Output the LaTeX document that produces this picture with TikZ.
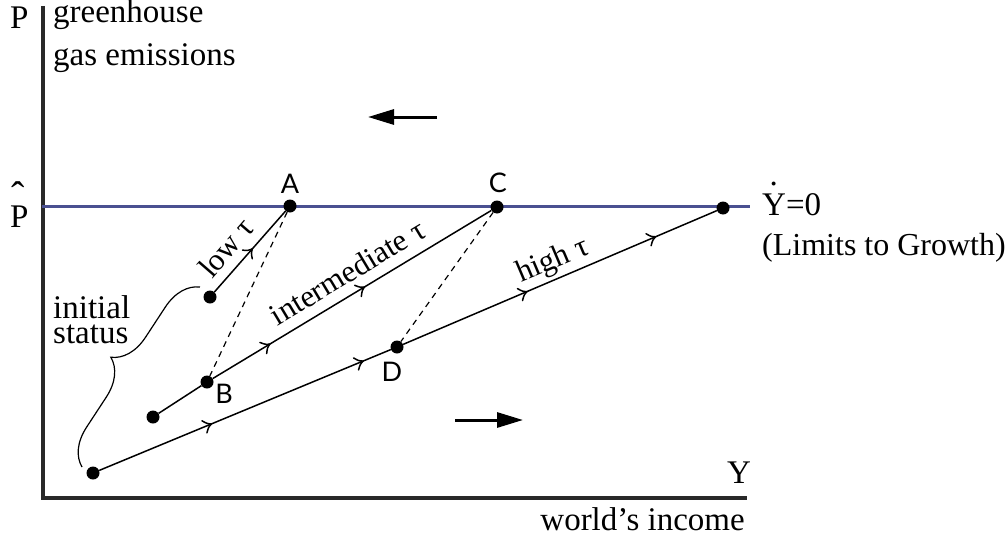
\documentclass[tikz,border=0pt]{standalone}
\usepackage{fontspec}
\setmainfont{Liberation Serif}
\newfontfamily\labelfont{Lato}
\usetikzlibrary{arrows.meta,decorations.pathreplacing,decorations.markings}
\definecolor{axisgray}{rgb}{0.16,0.16,0.16}
\definecolor{limblue}{RGB}{74,80,145}
\begin{document}
\begin{tikzpicture}[x=1pt,y=1pt,
  txt/.style={inner sep=0pt, font=\fontsize{33}{33}\selectfont},
  slab/.style={inner sep=0pt, anchor=base, font=\fontsize{31}{31}\selectfont},
  ptlab/.style={inner sep=0pt, anchor=base, font=\labelfont\fontsize{27}{27}\selectfont},
  pt/.style={circle, fill=black, minimum size=13pt, inner sep=0pt},
  traj/.style={line width=1.5pt},
  mk/.style={postaction={decorate, decoration={markings,
      mark=at position #1 with {\draw[line width=1.5pt, line cap=round]
        (-6pt,6.5pt) .. controls (-2.5pt,2pt) .. (1.5pt,0pt)
        .. controls (-2.5pt,-2pt) .. (-6pt,-6.5pt);}}}},
  axisline/.style={line width=3.5pt, draw=axisgray},
  bigarrow/.style={line width=3pt, -{Triangle[length=26pt,width=15pt]}},
  dashline/.style={line width=1.2pt, dash pattern=on 6pt off 5pt}]
\useasboundingbox (0,0) rectangle (1008,-543);

% axes
\coordinate (ytop) at (43,-6);
\coordinate (orig) at (43,-498);
\coordinate (xend) at (747,-498);
\draw[axisline] (ytop) -- (orig) -- (xend);

% limits line
\coordinate (bl) at (42,-206);
\coordinate (br) at (750,-206);
\draw[limblue, line width=3pt] (bl) -- (br);

% points
\node[pt] (s1) at (210,-297) {};
\node[pt] (A) at (290,-206) {};
\node[pt] (s2) at (153,-417) {};
\node[pt] (B) at (207,-382) {};
\node[pt] (C) at (497,-207) {};
\node[pt] (s3) at (93,-473) {};
\node[pt] (D) at (397,-347) {};
\node[pt] (E) at (723,-208) {};

% trajectories
\draw[traj, mk=0.52] (s1) -- (A);
\draw[traj] (s2) -- (B);
\draw[traj, mk=0.2, mk=0.54] (B) -- (C);
\draw[traj, mk=0.38, mk=0.9] (s3) -- (D);
\draw[traj, mk=0.39, mk=0.8] (D) -- (E);

% trajectory labels
\node[slab, rotate=49] (lowlab) at (234,-254.5) {low τ};
\node[slab, rotate=31] (midlab) at (353,-281) {intermediate τ};
\node[slab, rotate=23] (highlab) at (556,-268) {high τ};

% dashed connectors
\draw[dashline] (A) -- (B);
\draw[dashline] (C) -- (D);

% point labels
\node[ptlab] (lA) at (290,-193) {A};
\node[ptlab] (lB) at (224,-403) {B};
\node[ptlab] (lC) at (498,-192) {C};
\node[ptlab] (lD) at (392,-381) {D};

% brace
\coordinate (br1) at (82,-467);
\coordinate (br2) at (200,-287);
\draw[line width=1.2pt, decorate, decoration={brace, amplitude=36pt}] (br1) -- (br2);

% big direction arrows
\coordinate (la1) at (437,-117);
\coordinate (la2) at (368,-117);
\draw[bigarrow] (la1) -- (la2);
\coordinate (ra1) at (455,-420);
\coordinate (ra2) at (523,-420);
\draw[bigarrow] (ra1) -- (ra2);

% texts
\node[txt, anchor=base west] (P) at (10,-29) {P};
\node[txt, anchor=base west] (gh) at (53,-23) {greenhouse};
\node[txt, anchor=base west] (ge) at (53,-65) {gas emissions};
\node[txt, anchor=base west] (Ph) at (10,-227) {P};
\node[txt, anchor=base, font=\fontsize{40}{40}\selectfont] (hat) at (18.5,-209) {ˆ};
\node[txt, anchor=base west] (init) at (53,-318) {initial};
\node[txt, anchor=base west] (stat) at (53,-343) {status};
\node[txt, anchor=base west] (Yd) at (762,-215) {\makebox[0pt][l]{\hspace{7.5pt}\raisebox{30pt}{.}}Y=0};
\node[txt, anchor=base west, font=\fontsize{32}{32}\selectfont] (ltg) at (762,-255) {(Limits to Growth)};
\node[txt, anchor=base west] (Y) at (727,-483) {Y};
\node[txt, anchor=base east] (wi) at (745,-530) {world’s income};
\end{tikzpicture}
\end{document}
